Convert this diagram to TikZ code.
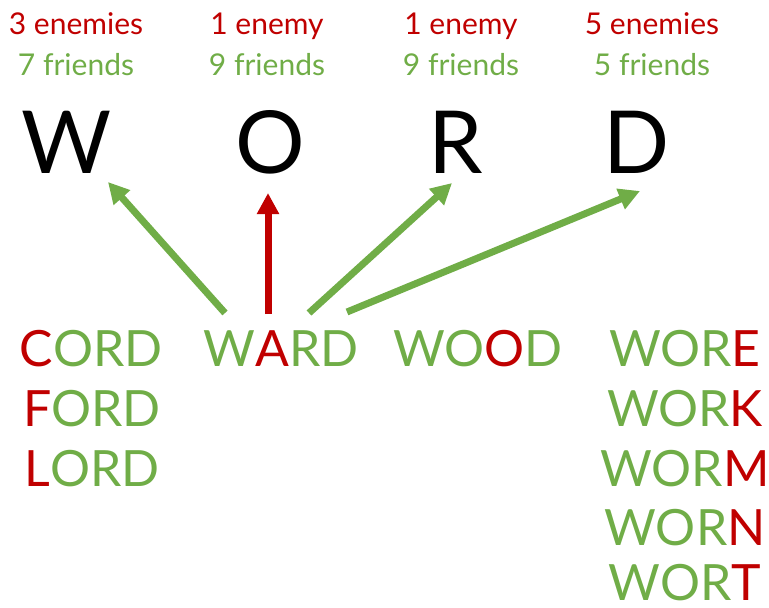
\documentclass[tikz,border=0pt]{standalone}
\usepackage{fontspec}
\setmainfont{Lato}
\usetikzlibrary{arrows.meta}
\definecolor{foe}{HTML}{C00000}
\definecolor{pal}{HTML}{70AD47}
\newcommand{\rd}[1]{\textcolor{foe}{#1}}
\begin{document}
\begin{tikzpicture}[x=1pt,y=-1pt,
  lbl/.style={anchor=base,inner sep=0pt,font=\fontsize{30}{30}\selectfont},
  big/.style={anchor=base,inner sep=0pt,font=\fontsize{87}{87}\selectfont},
  wrd/.style={anchor=base,inner sep=0pt,text=pal,font=\fontsize{50}{50}\selectfont},
  arr/.style={line width=7pt,-{Triangle[length=21pt,width=21pt]}},
]
\useasboundingbox (0,0) rectangle (769,608);
% counts
\node[lbl,text=foe] (e1) at (76,34) {3 enemies};
\node[lbl,text=pal] (f1) at (76,75) {7 friends};
\node[lbl,text=foe] (e2) at (267,34) {1 enemy};
\node[lbl,text=pal] (f2) at (267,75) {9 friends};
\node[lbl,text=foe] (e3) at (461,34) {1 enemy};
\node[lbl,text=pal] (f3) at (461,75) {9 friends};
\node[lbl,text=foe] (e4) at (652,34) {5 enemies};
\node[lbl,text=pal] (f4) at (652,75) {5 friends};
% big letters
\node[big] (W) at (67,173) {W};
\node[big] (O) at (270,173) {O};
\node[big] (R) at (456,173) {R};
\node[big] (D) at (637,173) {D};
% words
\node[wrd] (cord) at (91,366) {\rd{C}ORD};
\node[wrd] (ford) at (92,426) {\rd{F}ORD};
\node[wrd] (lord) at (92,486) {\rd{L}ORD};
\node[wrd] (ward) at (281,366) {W\rd{A}RD};
\node[wrd] (wood) at (478,366) {WO\rd{O}D};
\node[wrd] (wore) at (685,366) {WOR\rd{E}};
\node[wrd] (work) at (685,426) {WOR\rd{K}};
\node[wrd] (worm) at (685,486) {WOR\rd{M}};
\node[wrd] (worn) at (685,545) {WOR\rd{N}};
\node[wrd] (wort) at (685,600) {WOR\rd{T}};
% arrow ends
\coordinate (t1) at (225,313);
\coordinate (t2) at (268,314);
\coordinate (t3) at (309,313);
\coordinate (t4) at (347,312);
\coordinate (h1) at (108,182);
\coordinate (h2) at (268,193);
\coordinate (h3) at (452,183);
\coordinate (h4) at (640,191);
\draw[arr,pal] (t1) -- (h1);
\draw[arr,foe] (t2) -- (h2);
\draw[arr,pal] (t3) -- (h3);
\draw[arr,pal] (t4) -- (h4);
\end{tikzpicture}
\end{document}
